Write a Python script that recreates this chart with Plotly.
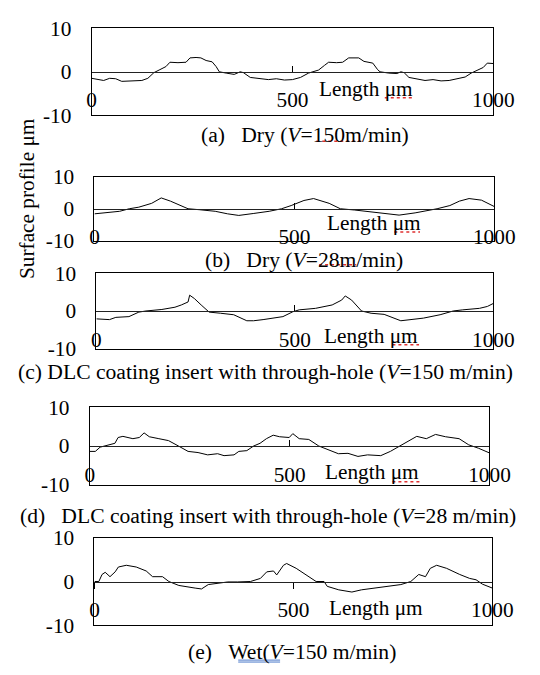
import plotly.graph_objects as go

# ---------------- data ----------------
X_A = [0, 15, 30, 45, 60, 75, 100, 125, 140, 155, 170, 185, 195, 215, 235, 245, 260, 272, 285, 300, 310, 318,
       335, 355, 370, 378, 395, 420, 440, 460, 480, 500, 520, 540, 550, 565, 580, 590, 610, 625, 640, 655, 665,
       678, 700, 712, 718, 740, 760, 770, 778, 790, 810, 830, 850, 870, 890, 910, 930, 945, 960, 975, 985, 1000]
Y_A = [-1.5, -1.8, -2.0, -1.5, -1.6, -2.2, -2.1, -2.0, -1.5, -0.2, 0.5, 1.2, 2.2, 2.1, 2.2, 3.2, 3.3, 3.2, 2.6, 2.3,
       1.2, 0.0, -0.3, -0.6, 0.0, -0.2, -1.3, -1.6, -1.8, -1.6, -1.9, -1.8, -1.3, -0.3, 0.0, 0.4, 1.5, 2.2, 2.1,
       2.2, 3.2, 3.3, 3.2, 2.4, 2.0, 0.5, 0.0, -0.3, -0.4, 0.0, -0.2, -1.3, -1.6, -2.0, -1.8, -2.1, -2.0, -1.6,
       -1.2, -0.3, 0.4, 1.0, 2.0, 1.9]

X_B = [0, 32, 63, 87, 111, 143, 167, 190, 222, 234, 262, 302, 333, 361, 397, 437, 468, 492, 524, 548, 587, 615,
       651, 698, 738, 762, 802, 841, 857, 889, 913, 937, 968, 1000]
Y_B = [-1.6, -1.3, -0.8, 0.0, 0.5, 1.7, 3.4, 2.4, 0.5, 0.0, -0.3, -0.8, -1.6, -2.1, -1.5, -0.8, 0.0, 1.0, 2.6,
       3.2, 1.7, 0.0, -0.4, -1.1, -1.8, -2.0, -1.3, -0.5, 0.0, 1.0, 2.4, 3.2, 2.7, 0.7]

X_C = [0, 16, 33, 49, 82, 107, 125, 165, 198, 214, 231, 235, 247, 264, 284, 313, 346, 379, 396, 420, 445, 470,
       495, 511, 552, 594, 618, 627, 643, 668, 692, 725, 767, 800, 824, 866, 899, 923, 965, 985, 1000]
Y_C = [-2.1, -2.1, -2.3, -1.7, -1.5, -0.3, 0.0, 0.4, 1.0, 1.6, 2.4, 4.2, 3.3, 1.6, -0.3, -0.6, -1.0, -2.6, -2.6,
       -2.3, -1.9, -1.5, -0.2, 0.3, 0.7, 1.6, 2.9, 4.0, 2.9, 0.0, -0.6, -0.9, -2.6, -2.3, -1.9, -1.0, 0.0, 0.3,
       0.7, 1.2, 2.0]

X_D = [0, 14, 26, 51, 63, 71, 83, 108, 124, 136, 149, 173, 197, 222, 246, 271, 295, 320, 336, 361, 373, 393,
       410, 426, 442, 459, 475, 499, 508, 524, 548, 573, 597, 622, 646, 671, 695, 728, 752, 777, 801, 818, 842,
       865, 890, 924, 948, 973, 1000]
Y_D = [-1.4, -1.4, -0.3, 0.3, 0.7, 2.2, 2.5, 1.9, 2.2, 3.4, 2.4, 1.9, 1.4, 0.0, -1.4, -1.7, -2.3, -2.0, -2.5,
       -2.3, -1.4, -1.2, 0.0, 0.7, 1.9, 2.8, 2.4, 2.2, 3.2, 1.9, 1.7, 0.0, -1.0, -2.0, -1.9, -2.7, -2.3, -2.5,
       -1.4, 0.0, 1.5, 2.5, 1.9, 3.0, 2.4, 1.9, 0.3, -0.6, -1.8]

X_E = [0, 11, 19, 27, 39, 52, 60, 80, 105, 130, 146, 171, 187, 212, 253, 269, 286, 310, 335, 360, 392, 417,
       433, 450, 458, 475, 483, 507, 532, 557, 577, 585, 614, 647, 671, 704, 737, 770, 795, 815, 832, 844, 860,
       885, 918, 943, 959, 975, 1000]
Y_E = [0.0, 0.0, 1.6, 2.1, 1.1, 2.2, 3.3, 3.7, 3.3, 2.4, 1.1, 1.1, 0.0, -0.9, -1.5, -1.7, -0.7, -0.4, -0.1,
       -0.1, 0.0, 0.7, 2.2, 2.4, 1.5, 3.7, 4.1, 3.0, 1.5, 0.0, 0.0, -1.1, -1.9, -2.4, -1.9, -1.5, -1.1, -0.7,
       0.0, 1.6, 1.1, 3.0, 3.7, 3.0, 1.6, 0.7, 0.4, -0.6, -1.5]

CAPTIONS = [
    "(a)\u00a0\u00a0\u00a0Dry (<i>V</i>=150m/min)",
    "(b)\u00a0\u00a0\u00a0Dry (<i>V</i>=28m/min)",
    "(c) DLC coating insert with through-hole (<i>V</i>=150 m/min)",
    "(d)\u00a0\u00a0\u00a0DLC coating insert with through-hole (<i>V</i>=28 m/min)",
    "(e)\u00a0\u00a0\u00a0Wet(<i>V</i>=150 m/min)",
]
X_TICK_VALS = [0, 500, 1000]
X_TICK_TEXT = ["0", "500", "1000"]
Y_TICK_VALS = [-10, 0, 10]
Y_TICK_TEXT = ["-10", "0", "10"]
X_TITLE = "Length μm"
Y_TITLE = "Surface profile μm"

# ---------------- layout geometry (pixels) ----------------
W, H = 540, 675
FONT = "Liberation Serif"
FS = 21.3
CFS = 21.6
BOXES = [(91, 513, 17, 107), (94, 514, 171, 237), (96, 513, 271, 349), (89, 509, 410, 490), (94, 512, 545, 636)]
CAPTION_POS = [(315, 128), (314, 257), (274, 373), (276, 523), (302, 664)]
XTITLE_POS = [(379, 80), (388, 219), (384, 336), (386, 477), (390, 618)]
TICK_DIR = ["inside", "inside", "inside", "inside", "outside"]
TICK_STANDOFF = [9, 9, 9, 9, 3]

series = [(X_A, Y_A), (X_B, Y_B), (X_C, Y_C), (X_D, Y_D), (X_E, Y_E)]

fig = go.Figure()
layout = dict(
    width=W, height=H, margin=dict(l=0, r=0, t=0, b=0),
    paper_bgcolor="white", plot_bgcolor="white", showlegend=False,
    font=dict(family=FONT, size=FS, color="black"),
)
annotations = []
shapes = []

for i, ((xs, ys), (l, r, t, b)) in enumerate(zip(series, BOXES)):
    k = i + 1
    ko = k + 5
    xd = [l / W, r / W]
    yd = [1 - b / H, 1 - t / H]
    # empty trace registers the framing subplot, data trace sits on the zero-crossing axis
    fig.add_trace(go.Scatter(x=[], y=[], mode="lines", xaxis=f"x{k}", yaxis=f"y{k}", hoverinfo="skip"))
    fig.add_trace(go.Scatter(x=xs, y=ys, mode="lines", line=dict(color="black", width=1),
                             xaxis=f"x{ko}", yaxis=f"y{k}", hoverinfo="skip"))
    layout[f"xaxis{k}"] = dict(domain=xd, anchor=f"y{k}", range=[0, 1000], showline=True, mirror=True,
                               linecolor="black", linewidth=1, ticks="", showticklabels=False,
                               showgrid=False, zeroline=False, fixedrange=True)
    layout[f"yaxis{k}"] = dict(domain=yd, anchor=f"x{k}", range=[-10, 10], showline=True, mirror=True,
                               linecolor="black", linewidth=1, ticks="", tickvals=Y_TICK_VALS,
                               ticktext=Y_TICK_TEXT, ticklabelstandoff=15, showgrid=False, zeroline=False,
                               tickfont=dict(family=FONT, size=FS, color="black"), fixedrange=True)
    layout[f"xaxis{ko}"] = dict(overlaying=f"x{k}", anchor="free", position=(yd[0] + yd[1]) / 2,
                                domain=xd, range=[0, 1000], showline=True, linecolor="#222", linewidth=1.2,
                                ticks=TICK_DIR[i], ticklen=6, tickcolor="black", tickwidth=1,
                                tickvals=X_TICK_VALS, ticktext=X_TICK_TEXT, ticklabelstandoff=TICK_STANDOFF[i],
                                showgrid=False, zeroline=False,
                                tickfont=dict(family=FONT, size=FS, color="black"), fixedrange=True)
    cx, cy = CAPTION_POS[i]
    annotations.append(dict(text=CAPTIONS[i], x=cx / W, y=1 - cy / H, xref="paper", yref="paper",
                            xanchor="center", yanchor="middle", showarrow=False,
                            font=dict(family=FONT, size=CFS, color="black")))
    tx, ty = XTITLE_POS[i]
    annotations.append(dict(text=X_TITLE, x=tx / W, y=1 - ty / H, xref="paper", yref="paper",
                            xanchor="center", yanchor="middle", showarrow=False,
                            font=dict(family=FONT, size=FS, color="black")))

annotations.append(dict(text=Y_TITLE, x=23 / W, y=1 - 193 / H, xref="paper", yref="paper", textangle=-90,
                        xanchor="center", yanchor="middle", showarrow=False,
                        font=dict(family=FONT, size=FS, color="black")))

# spell-check style underlines seen in the source image
SQUIGGLES = [(399, 428, 89), (327, 376, 134), (409, 436, 228), (330, 369, 262), (407, 435, 345), (407, 436, 487)]
for x0, x1, yy in SQUIGGLES:
    shapes.append(dict(type="line", xref="paper", yref="paper", x0=x0 / W, x1=x1 / W,
                       y0=1 - yy / H, y1=1 - yy / H, line=dict(color="#e03030", width=1.5, dash="dot")))
for yy in (672, 674):
    shapes.append(dict(type="line", xref="paper", yref="paper", x0=245 / W, x1=289 / W,
                       y0=1 - yy / H, y1=1 - yy / H, line=dict(color="#4a78c8", width=1)))

layout["annotations"] = annotations
layout["shapes"] = shapes
fig.update_layout(**layout)
fig.write_html("out.html", config={"displayModeBar": False},
               post_script="document.body.style.margin='0';document.body.style.overflow='hidden';")
